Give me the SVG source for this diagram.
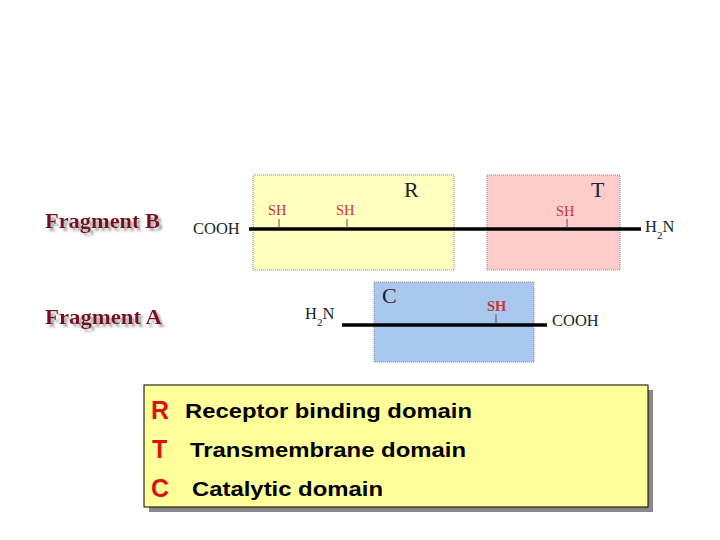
<svg xmlns="http://www.w3.org/2000/svg" width="720" height="540" viewBox="0 0 720 540">
<defs>
<filter id="shadow" x="-10%" y="-30%" width="130%" height="170%">
<feDropShadow dx="3" dy="3" stdDeviation="0.8" flood-color="#aaaaaa" flood-opacity="1"/>
</filter>
</defs>
<style>
.frag{font-family:"Liberation Serif",serif;font-weight:bold;font-size:21px;fill:#7a1020;filter:url(#shadow)}
.chem{font-family:"Liberation Serif",serif;font-size:16.5px;fill:#222}
.sub{font-size:11px}
.sh{font-family:"Liberation Serif",serif;font-size:14.5px;fill:#d03030}
.dom{font-family:"Liberation Serif",serif;font-size:22px;fill:#222}
.box{stroke:#888;stroke-width:1;stroke-dasharray:1 1}
.chain{stroke:#000;stroke-width:3.5}
.stub{stroke:#555;stroke-width:1}
.key{font-family:"Liberation Sans",Arial,sans-serif;font-weight:bold;font-size:25px;fill:#dd1010}
.lbl{font-family:"Liberation Sans",Arial,sans-serif;font-weight:bold;font-size:20px;fill:#000}
</style>
<rect width="720" height="540" fill="#fff"/>
<g id="fragmentB-label">
<text class="frag" x="45" y="228" textLength="115" lengthAdjust="spacingAndGlyphs">Fragment B</text>
</g>
<g id="fragmentA-label">
<text class="frag" x="45" y="324" textLength="117" lengthAdjust="spacingAndGlyphs">Fragment A</text>
</g>
<g id="domain-R">
<rect class="box" x="253" y="175" width="201" height="95" fill="#ffffc0"/>
<text class="dom" x="404" y="197">R</text>
</g>
<g id="domain-T">
<rect class="box" x="487" y="175" width="133" height="95" fill="#ffcccc"/>
<text class="dom" x="591" y="197">T</text>
</g>
<g id="domain-C">
<rect class="box" x="374" y="282" width="160" height="80" fill="#a8c8f0"/>
<text class="dom" x="382" y="303">C</text>
</g>
<g id="connectors">
<line class="chain" x1="249" y1="229" x2="641" y2="229"/>
<line class="chain" x1="342" y1="325" x2="547" y2="325"/>
<line class="stub" x1="279" y1="219" x2="279" y2="228"/>
<line class="stub" x1="347" y1="219" x2="347" y2="228"/>
<line class="stub" x1="567" y1="219" x2="567" y2="228"/>
<line class="stub" x1="496" y1="314" x2="496" y2="324"/>
</g>
<g id="fragmentB-labels">
<text class="chem" x="193" y="234">COOH</text>
<text class="sh" x="268" y="215">SH</text>
<text class="sh" x="336" y="215">SH</text>
<text class="sh" x="556" y="216">SH</text>
<text class="chem" x="645" y="232">H<tspan class="sub" dy="7">2</tspan><tspan dy="-7">N</tspan></text>
</g>
<g id="fragmentA-labels">
<text class="chem" x="305" y="319">H<tspan class="sub" dy="7">2</tspan><tspan dy="-7">N</tspan></text>
<text class="sh" x="487" y="311" font-weight="bold">SH</text>
<text class="chem" x="552" y="326">COOH</text>
</g>
<g id="legend">
<rect x="149" y="390" width="504" height="122" fill="#888"/>
<rect x="144" y="385" width="504" height="122" fill="#ffff99" stroke="#000" stroke-width="1"/>
<text class="key" x="151" y="419">R</text>
<text class="lbl" x="185" y="418" textLength="287" lengthAdjust="spacingAndGlyphs">Receptor binding domain</text>
<text class="key" x="152" y="458">T</text>
<text class="lbl" x="190" y="457" textLength="276" lengthAdjust="spacingAndGlyphs">Transmembrane domain</text>
<text class="key" x="151" y="497">C</text>
<text class="lbl" x="192" y="496" textLength="191" lengthAdjust="spacingAndGlyphs">Catalytic domain</text>
</g>
</svg>
